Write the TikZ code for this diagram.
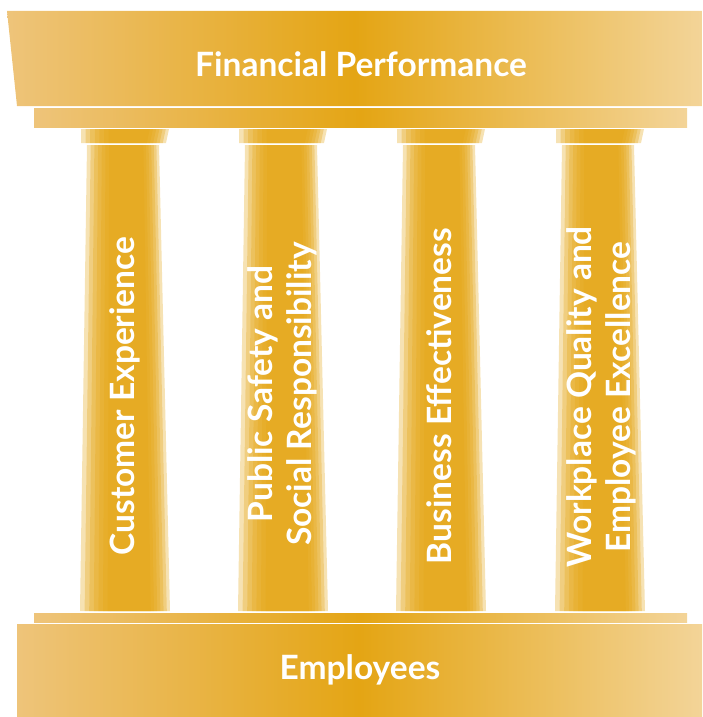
\documentclass[tikz,border=0pt]{standalone}
\usepackage{fontspec}
\setmainfont{Lato}
\definecolor{gold}{RGB}{228,165,20}
\definecolor{goldl}{RGB}{238,196,122}
\definecolor{goldr}{RGB}{243,212,152}
\tikzset{
  band/.style={left color=goldl, right color=goldr, middle color=gold},
  layer/.style={fill=gold, fill opacity=0.32},
  pillartext/.style={text=white, font=\bfseries\fontsize{33.5}{39}\selectfont, inner sep=0pt, align=center}
}
\begin{document}
\begin{tikzpicture}[x=1pt, y=-1pt]
            \useasboundingbox (0,0) rectangle (702,717);
            % roof and base
            \shade[band] (7,11) -- (702,11) -- (702,106) -- (17,106) -- cycle;
            \shade[band] (34,108) rectangle (687,127);
            \shade[band] (34,613) rectangle (687,622);
            \shade[band] (17,624) rectangle (702,717);
            % columns
            \foreach \c in {81,239,397,556} {
                \foreach \k in {0,...,6} {
                    \fill[layer] ({\c+\k*4.6},129) -- ({\c+88-\k*3.2},129) -- ({\c+85-\k*3.2},143) -- ({\c+\k*4.6},143) -- cycle;
                    \fill[layer] ({\c+6+\k*3.7},145) -- ({\c+78-\k*2.6},145) -- ({\c+89-\k*3.2},611) -- ({\c-1+\k*4.6},611) -- cycle;
                }
            }
            \node[pillartext] (fin) at (361,64) {Financial Performance};
            \node[pillartext] (emp) at (360,670) {Employees};
            \node[pillartext, rotate=90] (cust) at (125,396) {Customer Experience};
            \node[pillartext, rotate=90] (safe) at (282,394) {Public Safety and\\Social Responsibility};
            \node[pillartext, rotate=90] (bus) at (439,396) {Business Effectiveness};
            \node[pillartext, rotate=90] (work) at (601,397) {Workplace Quality and\\Employee Excellence};
        \end{tikzpicture}
\end{document}
